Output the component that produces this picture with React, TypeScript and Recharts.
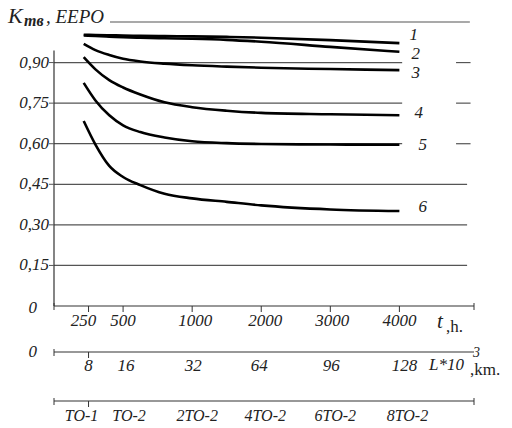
import React from "react";
import { LineChart, Line, XAxis, YAxis, ReferenceLine } from "recharts";

// position of each service interval on the (non-linear) time axis
const tPos = [0.43, 0.6, 0.8, 1, 1.25, 1.6, 2, 2.5, 3, 4, 5];

const curve1 = [1.003, 1.002, 1.001, 1.0, 0.999, 0.998, 0.997, 0.995, 0.992, 0.983, 0.972];
const curve2 = [1.0, 0.998, 0.996, 0.994, 0.992, 0.99, 0.988, 0.984, 0.977, 0.958, 0.94];
const curve3 = [0.969, 0.946, 0.928, 0.914, 0.904, 0.896, 0.89, 0.885, 0.881, 0.876, 0.872];
const curve4 = [0.92, 0.875, 0.835, 0.808, 0.782, 0.753, 0.735, 0.722, 0.714, 0.709, 0.705];
const curve5 = [0.825, 0.76, 0.705, 0.668, 0.643, 0.623, 0.609, 0.602, 0.599, 0.597, 0.596];
const curve6 = [0.684, 0.597, 0.518, 0.477, 0.447, 0.415, 0.398, 0.385, 0.372, 0.357, 0.351];

const curveNames = ["1", "2", "3", "4", "5", "6"];

const scalePos = [0.5, 1, 2, 3, 4, 5];
const hourLabels = ["250", "500", "1000", "2000", "3000", "4000"];
const kmLabels = ["8", "16", "32", "64", "96", "128"];
const toLabels = ["TO-1", "TO-2", "2TO-2", "4TO-2", "6TO-2", "8TO-2"];
const yTicks = [0, 0.15, 0.3, 0.45, 0.6, 0.75, 0.9];
const yLabels = ["0", "0,15", "0,30", "0,45", "0,60", "0,75", "0,90"];

const X_MAX = 6.08;
const FONT = "'Liberation Serif', 'Times New Roman', serif";
const GRID = "#555";

const series = [curve1, curve2, curve3, curve4, curve5, curve6].map((vals, i) => ({
  name: curveNames[i],
  data: tPos.map((t, j) => ({ t, k: vals[j] })),
}));

// where the curve number sits relative to the curve end
const nameOffset = [
  [10, -3],
  [12, 7],
  [12, 8],
  [15, 3],
  [19, 5],
  [19, 1],
];

// small horizontal nudges of the tick labels, as typeset in the original
const hourNudge = [-5, 0, 3, 4, 2, 0];
const kmNudge = [0, 3, 1, -2, 1, 5];
const toNudge = [-7, 6, 5, 4, 5, 8];

const YTick = (props: any) => {
  const { x, y, payload } = props;
  const i = yTicks.indexOf(payload.value);
  if (payload.value === 0) {
    return (
      <text x={x - 17} y={y + 7} textAnchor="end" fontFamily={FONT} fontStyle="italic" fontSize={17} fill="#222">
        {yLabels[i]}
      </text>
    );
  }
  return (
    <g>
      <line x1={x - 5} x2={x} y1={y} y2={y} stroke={GRID} />
      <text x={x - 5} y={y + 5} textAnchor="end" fontFamily={FONT} fontStyle="italic" fontSize={17} fill="#222">
        {yLabels[i]}
      </text>
    </g>
  );
};

const makeXTick =
  (labels: string[], nudge: number[], marks: number[], showZero: boolean, dy: number, size: number) =>
  (props: any) => {
    const { x, y, payload } = props;
    const v = payload.value;
    const i = scalePos.indexOf(v);
    const isEnd = v === 0 || v === X_MAX;
    return (
      <g>
        {isEnd && <line x1={x} x2={x} y1={y - 3} y2={y + 4} stroke="#333" />}
        {marks.includes(v) && <line x1={x} x2={x} y1={y} y2={y + 6} stroke="#333" />}
        {v === 0 && showZero && (
          <text x={x - 17} y={y + 5} textAnchor="end" fontFamily={FONT} fontStyle="italic" fontSize={17} fill="#222">
            0
          </text>
        )}
        {i >= 0 && (
          <text
            x={x + nudge[i]}
            y={y + dy}
            textAnchor="middle"
            fontFamily={FONT}
            fontStyle="italic"
            fontSize={size}
            fill="#222"
          >
            {labels[i]}
          </text>
        )}
      </g>
    );
  };

const HourTick = makeXTick(hourLabels, hourNudge, scalePos, false, 20, 17);
const KmTick = makeXTick(kmLabels, kmNudge, [0.5], true, 19, 17);
const ToTick = makeXTick(toLabels, toNudge, [0.5], false, 20, 16);

const fullGrid = [0.15, 0.3, 0.45];
const shortGrid = [0.6, 0.75, 0.9];

export default function App() {
  return (
    <div style={{ position: "absolute", left: 0, top: 0, background: "#fff" }}>
      <LineChart width={512} height={428} margin={{ top: 22, right: 38, bottom: 0, left: 0 }}>
        <XAxis
          xAxisId="h"
          type="number"
          dataKey="t"
          domain={[0, X_MAX]}
          ticks={[0, ...scalePos, X_MAX]}
          interval={0}
          height={46}
          tickSize={0}
          tickMargin={0}
          tick={HourTick}
          axisLine={{ stroke: "#333", strokeWidth: 1.2 }}
          allowDataOverflow
        />
        <XAxis
          xAxisId="km"
          type="number"
          dataKey="t"
          domain={[0, X_MAX]}
          ticks={[0, ...scalePos]}
          interval={0}
          height={49}
          tickSize={0}
          tickMargin={0}
          tick={KmTick}
          axisLine={{ stroke: "#333", strokeWidth: 1.2 }}
          allowDataOverflow
        />
        <XAxis
          xAxisId="to"
          type="number"
          dataKey="t"
          domain={[0, X_MAX]}
          ticks={[0, ...scalePos, X_MAX]}
          interval={0}
          height={27}
          tickSize={0}
          tickMargin={0}
          tick={ToTick}
          axisLine={{ stroke: "#333", strokeWidth: 1.2 }}
          allowDataOverflow
        />
        <YAxis
          type="number"
          domain={[0, 1.05]}
          ticks={yTicks}
          interval={0}
          width={54}
          tickSize={0}
          tickMargin={0}
          tick={YTick}
          axisLine={false}
          allowDataOverflow
        />

        {fullGrid.map((v) => (
          <ReferenceLine
            key={v}
            xAxisId="h"
            segment={[{ x: 0, y: v }, { x: 5.98, y: v }]}
            stroke={GRID}
            strokeWidth={1.2}
          />
        ))}
        {shortGrid.map((v) => (
          <ReferenceLine
            key={v}
            xAxisId="h"
            segment={[{ x: 0, y: v }, { x: 5.04, y: v }]}
            stroke={GRID}
            strokeWidth={1.2}
          />
        ))}
        {shortGrid.map((v) => (
          <ReferenceLine
            key={"d" + v}
            xAxisId="h"
            segment={[{ x: 5.82, y: v }, { x: 6.03, y: v }]}
            stroke={GRID}
            strokeWidth={1.2}
          />
        ))}
        <ReferenceLine
          xAxisId="h"
          segment={[{ x: 0.81, y: 1.05 }, { x: 6.02, y: 1.05 }]}
          stroke={GRID}
          strokeWidth={1.2}
        />
        <ReferenceLine
          xAxisId="h"
          segment={[{ x: 0, y: 0 }, { x: 0, y: 0.945 }]}
          stroke="#333"
          strokeWidth={1.2}
        />

        {/* invisible carriers so the km and TO scales get their ticks */}
        <Line xAxisId="km" data={series[5].data} dataKey="k" stroke="none" dot={false} isAnimationActive={false} />
        <Line xAxisId="to" data={series[5].data} dataKey="k" stroke="none" dot={false} isAnimationActive={false} />

        {series.map((s, i) => (
          <Line
            key={s.name}
            xAxisId="h"
            data={s.data}
            dataKey="k"
            type="monotone"
            stroke="#000"
            strokeWidth={2.6}
            dot={false}
            isAnimationActive={false}
            label={(p: any) =>
              p.index === s.data.length - 1 ? (
                <text
                  key={s.name}
                  x={p.x + nameOffset[i][0]}
                  y={p.y + nameOffset[i][1]}
                  fontFamily={FONT}
                  fontStyle="italic"
                  fontSize={17}
                  fill="#222"
                >
                  {s.name}
                </text>
              ) : (
                <g key={s.name + p.index} />
              )
            }
          />
        ))}

        <text x={8} y={23} fontFamily={FONT} fontStyle="italic" fontSize={22} fill="#222">
          K
        </text>
        <text x={24} y={26} fontFamily={FONT} fontStyle="italic" fontWeight="bold" fontSize={16} fill="#222">
          тв
        </text>
        <text x={46} y={23} fontFamily={FONT} fontStyle="italic" fontSize={19} fill="#222">
          , EEPO
        </text>

        <text x={437} y={328} fontFamily={FONT} fontStyle="italic" fontSize={21} fill="#222">
          t
        </text>
        <text x={446} y={332} fontFamily={FONT} fontSize={17} fill="#222">
          ,h.
        </text>
        <text x={429} y={370} fontFamily={FONT} fontStyle="italic" fontSize={17} fill="#222">
          L*10
        </text>
        <text x={473} y={357} fontFamily={FONT} fontStyle="italic" fontSize={14} fill="#222">
          3
        </text>
        <text x={470} y={375} fontFamily={FONT} fontSize={17} fill="#222">
          ,km.
        </text>
      </LineChart>
    </div>
  );
}
